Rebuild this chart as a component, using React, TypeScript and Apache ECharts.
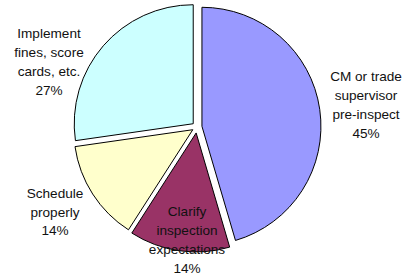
import React, { useEffect, useRef } from 'react';
import * as echarts from 'echarts';

const CATEGORIES = [
  'CM or trade\nsupervisor\npre-inspect',
  'Clarify\ninspection\nexpectations',
  'Schedule\nproperly',
  'Implement\nfines, score\ncards, etc.',
];
const VALUES = [10, 3, 3, 6];
const COLORS = ['#9999FF', '#993366', '#FFFFCC', '#CCFFFF'];
const EXPLODED_INDEX = 1;
const LABEL_POS: [number, number][] = [
  [366, 105],
  [187, 240],
  [55, 212],
  [49, 62],
];

export default function App() {
  const ref = useRef<HTMLDivElement>(null);
  useEffect(() => {
    if (!ref.current) return;
    const chart = echarts.init(ref.current, undefined, { renderer: 'svg' });
    const hidden = { color: 'transparent', borderWidth: 0 };
    const visible = (i: number) => ({ color: COLORS[i], borderColor: '#000', borderWidth: 1 });
    const total = VALUES.reduce((a, b) => a + b, 0);
    const common = {
      type: 'pie' as const,
      center: [197, 127],
      radius: 119,
      startAngle: 90,
      clockwise: true,
      selectedMode: 'multiple' as const,
      silent: true,
      emphasis: { disabled: true },
      label: { show: false },
      labelLine: { show: false },
    };
    chart.setOption({
      animation: false,
      backgroundColor: '#fff',
      graphic: CATEGORIES.map((c, i) => ({
        type: 'text',
        x: LABEL_POS[i][0],
        y: LABEL_POS[i][1],
        z: 100,
        silent: true,
        style: {
          text: c + '\n' + Math.round((VALUES[i] / total) * 100) + '%',
          fill: '#111',
          font: '13.6px "Liberation Sans", Arial, sans-serif',
          lineHeight: 18.7,
          align: 'center',
          verticalAlign: 'middle',
        },
      })),
      series: [
        {
          ...common,
          z: 3,
          selectedOffset: 5,
          data: VALUES.map((v, i) => ({
            name: CATEGORIES[i],
            value: v,
            selected: true,
            itemStyle: i === EXPLODED_INDEX ? hidden : visible(i),
          })),
        },
        {
          ...common,
          z: 2,
          selectedOffset: 6,
          data: VALUES.map((v, i) => ({
            name: CATEGORIES[i],
            value: v,
            selected: true,
            itemStyle: i === EXPLODED_INDEX ? visible(i) : hidden,
          })),
        },
      ],
    });
    return () => chart.dispose();
  }, []);
  return (
    <div
      ref={ref}
      style={{ position: 'fixed', left: 0, top: 0, width: 407, height: 280, background: '#fff' }}
    />
  );
}
